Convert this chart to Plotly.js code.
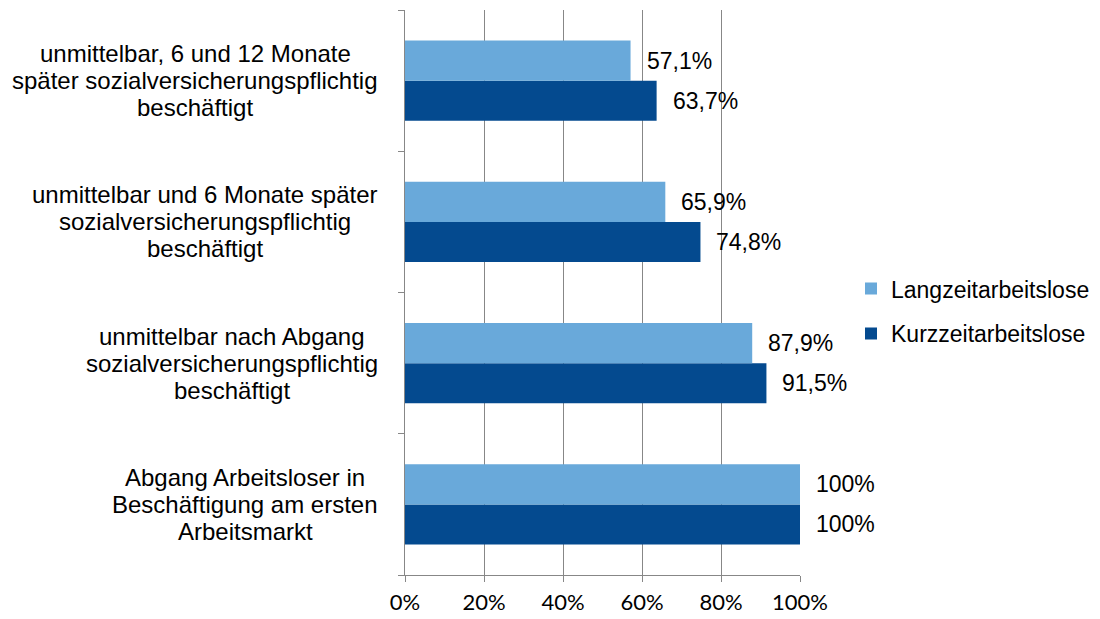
<!DOCTYPE html>
<html>
<head>
<meta charset="utf-8">
<script src="https://cdn.plot.ly/plotly-3.0.1.min.js"></script>
<style>html,body{margin:0;padding:0;background:#fff;overflow:hidden;}#chart{width:1100px;height:619px;}</style>
</head>
<body>
<div id="chart"></div>
<script>
// Categories bottom-to-top (as Plotly stacks categories upward)
const categories = [
  "Abgang Arbeitsloser in<br>Beschäftigung am ersten<br>Arbeitsmarkt",
  "unmittelbar nach Abgang<br>sozialversicherungspflichtig<br>beschäftigt",
  "unmittelbar und 6 Monate später<br>sozialversicherungspflichtig<br>beschäftigt",
  "unmittelbar, 6 und 12 Monate<br>später sozialversicherungspflichtig<br>beschäftigt"
];
const langzeit = [100, 87.9, 65.9, 57.1];
const kurzzeit = [100, 91.5, 74.8, 63.7];
const seriesNames = ["Langzeitarbeitslose", "Kurzzeitarbeitslose"];
const xTicks = [0, 20, 40, 60, 80, 100];

const colLang = "#69A9DA";
const colKurz = "#044A8F";
const FAMILY = "Liberation Sans, Arial, sans-serif";
const catFont = {family: FAMILY, size: 24, color: "#000"};
const textFont = {family: FAMILY, size: 23, color: "#000"};

function fmt(v) {
  return (Number.isInteger(v) ? String(v) : v.toFixed(1).replace(".", ",")) + "%";
}

const canvas = document.createElement("canvas");
const ctx = canvas.getContext("2d");
ctx.font = "24px 'Liberation Sans'";

const traces = [
  {type: "bar", orientation: "h", name: seriesNames[1], y: categories, x: kurzzeit,
   marker: {color: colKurz}, legendgroup: "k", legendrank: 2, hoverinfo: "none"},
  {type: "bar", orientation: "h", name: seriesNames[0], y: categories, x: langzeit,
   marker: {color: colLang}, legendgroup: "l", legendrank: 1, hoverinfo: "none"}
];

const LABEL_RIGHT_GAP = 27;   // px between label block and axis
const LINE_H = 27;            // px line spacing of category labels
const annotations = [];
categories.forEach((c, i) => {
  const lines = c.split("<br>");
  const wmax = Math.max(...lines.map(l => ctx.measureText(l).width));
  const n = lines.length;
  lines.forEach((ln, j) => {
    annotations.push({xref: "paper", yref: "y", x: 0, y: c, xanchor: "center", yanchor: "middle",
      xshift: -LABEL_RIGHT_GAP - wmax / 2, yshift: ((n - 1) / 2 - j) * LINE_H,
      text: ln, showarrow: false, font: catFont});
  });
  annotations.push({xref: "x", yref: "y", x: langzeit[i], y: c, xanchor: "left", yanchor: "middle",
    xshift: 14, yshift: 20, text: fmt(langzeit[i]), showarrow: false, font: textFont});
  annotations.push({xref: "x", yref: "y", x: kurzzeit[i], y: c, xanchor: "left", yanchor: "middle",
    xshift: 14, yshift: -20, text: fmt(kurzzeit[i]), showarrow: false, font: textFont});
});

const layout = {
  width: 1100, height: 619,
  margin: {l: 405, r: 300, t: 10, b: 44, pad: 0, autoexpand: false},
  paper_bgcolor: "#fff", plot_bgcolor: "#fff",
  barmode: "group", bargap: 0.433, bargroupgap: 0,
  showlegend: true,
  legend: {x: (851 - 405) / 395, y: 0.467, yanchor: "middle", xanchor: "left",
           traceorder: "grouped", font: textFont,
           tracegroupgap: 12, bgcolor: "rgba(0,0,0,0)"},
  xaxis: {range: [0, 100], tickvals: xTicks, ticktext: xTicks.map(v => v + "%"),
          showgrid: true, gridcolor: "#878787", gridwidth: 1,
          showline: true, linecolor: "#878787", linewidth: 1,
          ticks: "outside", ticklen: 6, tickcolor: "#878787",
          ticklabelstandoff: 2, zeroline: false, automargin: false,
          tickfont: {family: "Lato, Carlito, Calibri, sans-serif", size: 22, color: "#000"}},
  yaxis: {type: "category", categoryorder: "array", categoryarray: categories,
          range: [-0.5, 3.5], showticklabels: false, showgrid: false,
          showline: true, linecolor: "#878787", linewidth: 1,
          ticks: "outside", ticklen: 6, tickcolor: "#878787", tickson: "boundaries",
          zeroline: false, automargin: false},
  annotations: annotations
};

Plotly.newPlot("chart", traces, layout, {displayModeBar: false, staticPlot: true});
</script>
</body>
</html>
